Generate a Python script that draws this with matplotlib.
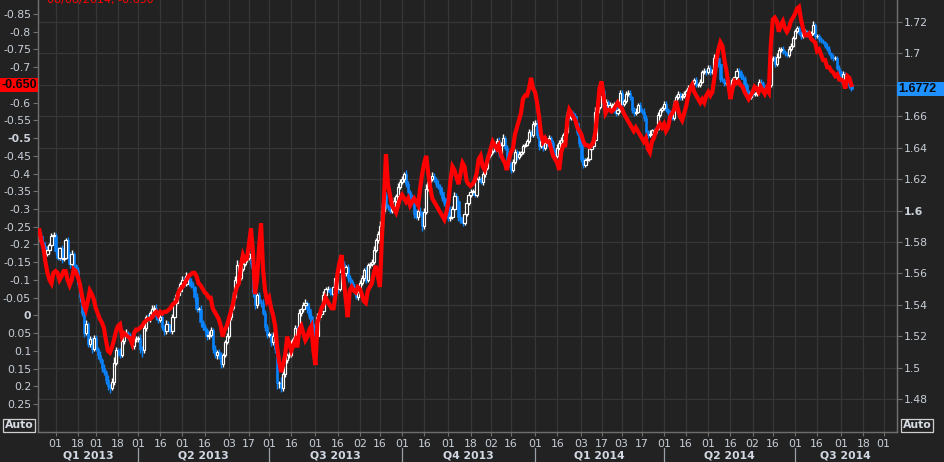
import numpy as np
import pandas as pd
import matplotlib
matplotlib.use("Agg")
import matplotlib.pyplot as plt
from matplotlib.patches import Rectangle
from matplotlib.transforms import blended_transform_factory

# GBP/USD daily closes, one line per month (Jan 22 2013 .. Aug 8 2014)
first_open = 1.582
gbp_close = [
    1.584, 1.580, 1.577, 1.572, 1.575, 1.578, 1.584, 1.584,
    1.574, 1.570, 1.576, 1.569, 1.570, 1.581, 1.572, 1.566, 1.572, 1.565, 1.562, 1.553, 1.545, 1.535, 1.522, 1.528, 1.515, 1.518, 1.512, 1.519,
    1.512, 1.508, 1.505, 1.500, 1.497, 1.492, 1.488, 1.487, 1.491, 1.503, 1.511, 1.510, 1.508, 1.517, 1.521, 1.522, 1.520, 1.519, 1.514, 1.518, 1.518,
    1.519, 1.512, 1.511, 1.525, 1.532, 1.531, 1.535, 1.537, 1.538, 1.533, 1.530, 1.532, 1.526, 1.523, 1.528, 1.525, 1.523, 1.532, 1.541, 1.546, 1.549, 1.553,
    1.556, 1.553, 1.558, 1.555, 1.552, 1.551, 1.545, 1.537, 1.537, 1.529, 1.526, 1.524, 1.520, 1.521, 1.524, 1.512, 1.508, 1.510, 1.507, 1.502, 1.508, 1.516, 1.520,
    1.532, 1.538, 1.545, 1.556, 1.565, 1.557, 1.563, 1.566, 1.569, 1.570, 1.572, 1.566, 1.548, 1.540, 1.546, 1.542, 1.541, 1.535, 1.526, 1.521,
    1.521, 1.516, 1.520, 1.512, 1.490, 1.490, 1.487, 1.496, 1.505, 1.508, 1.508, 1.515, 1.518, 1.525, 1.522, 1.535, 1.537, 1.540, 1.541, 1.537, 1.533, 1.528, 1.522,
    1.520, 1.532, 1.534, 1.536, 1.546, 1.550, 1.550, 1.548, 1.547, 1.551, 1.557, 1.550, 1.561, 1.566, 1.560, 1.564, 1.557, 1.555, 1.552, 1.549, 1.545, 1.548,
    1.554, 1.557, 1.562, 1.556, 1.565, 1.566, 1.567, 1.575, 1.581, 1.585, 1.590, 1.600, 1.610, 1.603, 1.602, 1.600, 1.601, 1.606, 1.609, 1.615, 1.618,
    1.620, 1.623, 1.617, 1.612, 1.608, 1.606, 1.598, 1.596, 1.600, 1.598, 1.590, 1.599, 1.614, 1.618, 1.620, 1.622, 1.620, 1.617, 1.615, 1.612, 1.608, 1.605, 1.603,
    1.595, 1.596, 1.601, 1.609, 1.606, 1.596, 1.594, 1.592, 1.598, 1.605, 1.610, 1.612, 1.612, 1.610, 1.620, 1.620, 1.618, 1.623, 1.627, 1.634, 1.636,
    1.638, 1.642, 1.639, 1.644, 1.636, 1.642, 1.646, 1.640, 1.632, 1.629, 1.626, 1.631, 1.637, 1.634, 1.636, 1.637, 1.641, 1.642, 1.644, 1.650, 1.648, 1.655,
    1.656, 1.648, 1.641, 1.644, 1.640, 1.643, 1.642, 1.646, 1.643, 1.638, 1.635, 1.640, 1.643, 1.645, 1.648, 1.650, 1.661, 1.659, 1.662, 1.660, 1.656, 1.650, 1.643,
    1.633, 1.629, 1.632, 1.633, 1.639, 1.641, 1.645, 1.663, 1.666, 1.673, 1.676, 1.667, 1.669, 1.665, 1.667, 1.667, 1.668, 1.662, 1.664, 1.675,
    1.668, 1.670, 1.674, 1.675, 1.672, 1.664, 1.662, 1.663, 1.667, 1.664, 1.663, 1.659, 1.650, 1.648, 1.649, 1.651, 1.650, 1.652, 1.661, 1.664, 1.665,
    1.668, 1.664, 1.662, 1.660, 1.659, 1.668, 1.672, 1.674, 1.672, 1.673, 1.674, 1.676, 1.678, 1.679, 1.681, 1.683, 1.680, 1.680, 1.682, 1.688, 1.689, 1.688,
    1.691, 1.688, 1.688, 1.697, 1.697, 1.693, 1.684, 1.683, 1.681, 1.681, 1.677, 1.679, 1.683, 1.685, 1.689, 1.688, 1.685, 1.684, 1.680, 1.675, 1.672, 1.675,
    1.674, 1.674, 1.677, 1.682, 1.681, 1.678, 1.676, 1.678, 1.680, 1.697, 1.697, 1.693, 1.698, 1.702, 1.703, 1.701, 1.700, 1.699, 1.703, 1.705, 1.710,
    1.714, 1.716, 1.713, 1.711, 1.714, 1.714, 1.712, 1.712, 1.713, 1.718, 1.711, 1.711, 1.709, 1.708, 1.707, 1.705, 1.703, 1.700, 1.698, 1.697, 1.697, 1.691, 1.688,
    1.683, 1.687, 1.685, 1.684, 1.680, 1.6772,
]

# wick lengths above / below the body, in pips
wick_up = [
    12, 20, 8, 15, 22, 10, 18, 25,
    15, 30, 10, 18, 25, 12, 20, 14, 28, 16, 9, 22, 18, 30, 12, 26, 10, 24, 15, 20,
    18, 10, 25, 14, 20, 12, 30, 16, 22, 35, 18, 12, 26, 20, 15, 28, 10, 18, 24, 14, 20,
    12, 25, 18, 30, 15, 20, 10, 28, 16, 22, 14, 18, 26, 12, 20, 15, 24, 18, 30, 12, 22, 16,
    20, 14, 28, 12, 18, 25, 10, 22, 16, 30, 14, 20, 12, 26, 18, 10, 24, 15, 20, 28, 12, 18, 22,
    25, 16, 30, 20, 35, 14, 22, 18, 28, 12, 30, 20, 45, 26, 18, 22, 14, 28, 16, 20,
    18, 12, 25, 20, 30, 16, 40, 55, 22, 14, 18, 26, 12, 20, 16, 24, 10, 18, 28, 14, 20, 16, 22,
    14, 25, 12, 18, 30, 16, 20, 12, 24, 18, 22, 14, 20, 28, 16, 12, 22, 18, 14, 20, 26, 12,
    16, 22, 12, 28, 18, 14, 20, 25, 16, 22, 30, 40, 35, 18, 14, 20, 12, 24, 16, 22, 18,
    20, 14, 25, 18, 12, 22, 16, 28, 14, 20, 18, 26, 30, 16, 12, 22, 18, 14, 24, 16, 20, 12, 18,
    22, 14, 18, 26, 20, 12, 16, 24, 18, 22, 14, 20, 16, 28, 12, 18, 14, 22, 16, 20, 12,
    18, 22, 14, 20, 26, 16, 24, 12, 18, 14, 20, 16, 22, 12, 18, 10, 14, 8, 12, 16, 14, 20,
    16, 24, 12, 18, 14, 22, 16, 20, 12, 18, 14, 24, 16, 20, 12, 18, 26, 14, 20, 16, 22, 12, 18,
    14, 20, 16, 12, 22, 18, 14, 26, 16, 20, 24, 12, 18, 14, 20, 16, 12, 22, 14, 18,
    16, 12, 20, 14, 18, 12, 16, 22, 14, 18, 12, 20, 16, 14, 22, 12, 18, 14, 20, 12, 16,
    14, 18, 12, 20, 16, 22, 14, 18, 12, 16, 20, 14, 18, 12, 16, 14, 20, 12, 18, 14, 16, 12,
    16, 14, 20, 24, 16, 18, 12, 14, 16, 12, 18, 14, 16, 12, 18, 14, 12, 16, 14, 12, 18, 14,
    12, 16, 14, 20, 18, 12, 16, 14, 18, 22, 16, 14, 20, 18, 12, 16, 14, 12, 18, 16, 14,
    18, 16, 14, 12, 16, 14, 12, 18, 14, 25, 12, 14, 16, 12, 14, 12, 16, 14, 12, 14, 12, 16, 14,
    12, 16, 14, 12, 16, 14,
]
wick_dn = [
    15, 10, 22, 18, 12, 20, 14, 10,
    22, 12, 18, 25, 14, 10, 20, 28, 12, 18, 24, 16, 30, 20, 26, 14, 22, 18, 28, 12,
    16, 24, 20, 28, 18, 25, 22, 30, 14, 18, 12, 24, 16, 14, 20, 12, 26, 18, 14, 22, 16,
    20, 30, 40, 14, 18, 12, 22, 16, 14, 26, 18, 12, 20, 24, 16, 18, 12, 14, 10, 18, 12, 16,
    14, 20, 12, 18, 16, 22, 26, 18, 14, 24, 20, 16, 22, 18, 14, 26, 20, 28, 16, 24, 18, 14, 12,
    14, 18, 12, 16, 20, 18, 14, 12, 16, 20, 14, 24, 30, 28, 20, 16, 22, 18, 24, 20,
    16, 22, 18, 26, 35, 28, 25, 20, 18, 22, 16, 14, 20, 12, 18, 14, 20, 16, 12, 22, 18, 24, 20,
    28, 14, 18, 12, 16, 22, 14, 20, 16, 12, 18, 24, 14, 12, 20, 16, 22, 18, 20, 24, 16, 18,
    14, 16, 20, 22, 12, 18, 14, 12, 16, 14, 12, 18, 20, 22, 16, 14, 18, 12, 14, 16, 12,
    14, 18, 20, 16, 22, 18, 26, 14, 20, 16, 28, 18, 12, 14, 16, 12, 18, 20, 16, 22, 18, 20, 24,
    20, 16, 12, 14, 22, 26, 18, 20, 14, 12, 16, 14, 18, 12, 16, 14, 12, 16, 14, 12, 14,
    12, 14, 18, 12, 20, 14, 12, 18, 22, 16, 20, 14, 12, 16, 14, 12, 10, 8, 12, 10, 14, 12,
    10, 18, 22, 14, 20, 16, 14, 12, 18, 20, 22, 16, 14, 12, 14, 12, 10, 16, 14, 18, 20, 22, 24,
    22, 20, 14, 16, 12, 14, 12, 10, 14, 12, 16, 20, 14, 18, 14, 16, 20, 18, 14, 12,
    14, 12, 16, 12, 18, 20, 16, 14, 12, 16, 14, 20, 22, 16, 14, 12, 16, 12, 10, 14, 12,
    12, 16, 18, 14, 16, 12, 10, 12, 16, 14, 12, 10, 14, 12, 10, 12, 16, 14, 12, 10, 14, 16,
    12, 16, 14, 12, 14, 18, 20, 14, 16, 12, 18, 14, 12, 10, 12, 14, 16, 12, 16, 18, 14, 12,
    14, 12, 10, 12, 14, 16, 14, 12, 10, 12, 16, 18, 12, 10, 12, 14, 16, 12, 10, 12, 10,
    10, 12, 14, 16, 12, 10, 14, 12, 10, 12, 18, 14, 16, 14, 12, 14, 16, 12, 14, 16, 14, 18, 16,
    16, 12, 14, 16, 18, 14,
]

# red overlay series (left, inverted axis)
spread = [
    -0.24, -0.21, -0.19, -0.15, -0.12, -0.10, -0.09, -0.12,
    -0.125, -0.12, -0.10, -0.11, -0.125, -0.125, -0.10, -0.085, -0.10, -0.13, -0.125, -0.11, -0.09, -0.06, -0.03, -0.015, -0.04, -0.07, -0.06, -0.045,
    -0.02, -0.005, 0.01, 0.02, 0.035, 0.07, 0.10, 0.105, 0.09, 0.07, 0.045, 0.03, 0.025, 0.06, 0.05, 0.055, 0.06, 0.065, 0.08, 0.05, 0.04,
    0.04, 0.035, 0.03, 0.02, 0.015, 0.01, 0.01, 0.005, -0.005, -0.01, 0.0, -0.01, -0.005, -0.01, -0.01, -0.015, -0.02, -0.03, -0.035, -0.04, -0.065, -0.075,
    -0.08, -0.09, -0.10, -0.11, -0.115, -0.12, -0.12, -0.11, -0.09, -0.085, -0.075, -0.065, -0.06, -0.05, -0.05, -0.02, -0.01, 0.0, 0.01, 0.03, 0.06, 0.04, 0.03,
    0.01, -0.01, -0.03, -0.06, -0.08, -0.09, -0.14, -0.17, -0.155, -0.16, -0.20, -0.245, -0.18, -0.06, -0.10, -0.19, -0.26, -0.13, -0.07, -0.04,
    -0.05, -0.02, 0.0, 0.03, 0.09, 0.13, 0.16, 0.14, 0.11, 0.06, 0.08, 0.10, 0.085, 0.07, 0.09, 0.04, 0.03, 0.05, 0.07, 0.06, 0.04, 0.03, 0.10,
    0.14, 0.02, 0.0, -0.02, -0.03, -0.05, -0.04, -0.03, -0.02, -0.02, -0.06, -0.12, -0.15, -0.17, -0.10, -0.05, 0.005, -0.07, -0.08, -0.07, -0.065, -0.08,
    -0.075, -0.06, -0.04, -0.035, -0.07, -0.08, -0.09, -0.12, -0.14, -0.11, -0.08, -0.22, -0.33, -0.455, -0.37, -0.34, -0.31, -0.30, -0.29, -0.31, -0.33,
    -0.34, -0.33, -0.32, -0.33, -0.31, -0.32, -0.33, -0.32, -0.31, -0.36, -0.40, -0.43, -0.45, -0.40, -0.36, -0.33, -0.32, -0.31, -0.30, -0.29, -0.28, -0.27, -0.29,
    -0.32, -0.38, -0.42, -0.41, -0.39, -0.37, -0.40, -0.43, -0.42, -0.38, -0.37, -0.365, -0.37, -0.38, -0.40, -0.44, -0.45, -0.42, -0.41, -0.43, -0.45,
    -0.47, -0.49, -0.48, -0.47, -0.48, -0.455, -0.44, -0.43, -0.41, -0.44, -0.46, -0.47, -0.51, -0.53, -0.55, -0.57, -0.61, -0.62, -0.62, -0.64, -0.67, -0.64,
    -0.63, -0.60, -0.56, -0.51, -0.49, -0.50, -0.49, -0.49, -0.47, -0.45, -0.44, -0.43, -0.41, -0.46, -0.48, -0.48, -0.55, -0.58, -0.57, -0.56, -0.55, -0.53, -0.52,
    -0.51, -0.49, -0.48, -0.48, -0.475, -0.48, -0.49, -0.52, -0.58, -0.64, -0.66, -0.62, -0.57, -0.58, -0.58, -0.575, -0.58, -0.59, -0.60, -0.59,
    -0.585, -0.57, -0.56, -0.55, -0.54, -0.53, -0.52, -0.53, -0.52, -0.51, -0.50, -0.49, -0.50, -0.47, -0.46, -0.49, -0.50, -0.52, -0.53, -0.54, -0.53,
    -0.54, -0.52, -0.53, -0.56, -0.57, -0.58, -0.605, -0.58, -0.56, -0.55, -0.57, -0.59, -0.62, -0.64, -0.65, -0.63, -0.62, -0.61, -0.60, -0.61, -0.60, -0.62,
    -0.63, -0.62, -0.63, -0.67, -0.72, -0.75, -0.77, -0.76, -0.72, -0.69, -0.65, -0.61, -0.64, -0.66, -0.655, -0.66, -0.65, -0.645, -0.63, -0.62, -0.61, -0.62,
    -0.63, -0.645, -0.64, -0.63, -0.645, -0.635, -0.625, -0.64, -0.63, -0.76, -0.835, -0.84, -0.83, -0.80, -0.82, -0.83, -0.81, -0.80, -0.81, -0.83, -0.84,
    -0.85, -0.865, -0.87, -0.835, -0.81, -0.79, -0.79, -0.795, -0.78, -0.775, -0.77, -0.745, -0.75, -0.735, -0.72, -0.72, -0.70, -0.70, -0.69, -0.685, -0.675, -0.68, -0.665,
    -0.665, -0.66, -0.64, -0.675, -0.67, -0.65,
]

quarters = ["Q1 2013", "Q2 2013", "Q3 2013", "Q4 2013", "Q1 2014", "Q2 2014", "Q3 2014"]
quarter_starts = ["2013-04-01", "2013-07-01", "2013-10-01", "2014-01-01", "2014-04-01", "2014-07-01"]
title_text = "08/08/2014, -0.650"

BG = "#222222"
GRID = "#373737"
SPINE = "#6e6e6e"
TXT = "#c9d0d9"
BLUE = "#0a84ff"
RED = "#ff0000"
W, H = 945, 462

dates = pd.bdate_range("2013-01-22", "2014-08-08")
assert len(dates) == len(gbp_close) == len(spread) == len(wick_up) == len(wick_dn)
x = np.arange(len(dates))
close = np.array(gbp_close)
opn = np.r_[first_open, close[:-1]]
hi = np.maximum(opn, close) + np.array(wick_up) * 1e-4
lo = np.minimum(opn, close) - np.array(wick_dn) * 1e-4
up = close >= opn

# weekday axis positions for calendar dates
cal = pd.bdate_range("2013-01-01", "2014-12-31")
i0 = cal.searchsorted(dates[0])
def pos(d):
    return cal.searchsorted(pd.Timestamp(d)) - i0

xlim = (-0.7, 425.5)

fig = plt.figure(figsize=(W / 100, H / 100), dpi=100, facecolor=BG)
ax = fig.add_axes([38 / W, 30 / H, (896.7 - 38) / W, 432 / H], facecolor=BG)
axr = ax.twinx()

# candles
body = np.abs(close - opn)
body = np.where(body < 2e-4, 2e-4, body)
bot = np.minimum(opn, close)
ax.vlines(x[up], lo[up], hi[up], color="white", lw=1.0, zorder=2)
ax.vlines(x[~up], lo[~up], hi[~up], color=BLUE, lw=1.0, zorder=2)
ax.bar(x[~up], body[~up], bottom=bot[~up], width=1.15, color=BLUE, edgecolor=BLUE, lw=0.4, zorder=3)
ax.bar(x[up], body[up], bottom=bot[up], width=1.15, facecolor=BG, edgecolor="white", lw=0.85, zorder=3)

# red overlay on top
axr.plot(x, spread, color=RED, lw=3.0, solid_joinstyle="miter", zorder=4)

ax.set_xlim(*xlim)
ax.set_ylim(1.459, 1.734)
axr.set_ylim(0.329, -0.8896)

def fmt(v):
    s = f"{v:.2f}".rstrip("0").rstrip(".")
    return "0" if s in ("-0", "") else s

rticks = np.round(np.arange(1.48, 1.7201, 0.02), 2)
ax.set_yticks(rticks, ["" if abs(v - 1.68) < 1e-6 else fmt(v) for v in rticks])
lticks = np.round(np.arange(-0.85, 0.2501, 0.05), 2)
axr.set_yticks(lticks, ["" if abs(v + 0.65) < 1e-6 else fmt(v) for v in lticks])

# date ticks on the 1st / 16th (first weekday on or after)
tick_dates = []
for m in pd.date_range("2013-01-01", "2014-09-01", freq="MS"):
    for d in (1, 16):
        td = m + pd.Timedelta(days=d - 1)
        p = pos(td)
        if xlim[0] < p < xlim[1]:
            tick_dates.append((p, cal[cal.searchsorted(td)].strftime("%d")))
ax.set_xticks([p for p, _ in tick_dates], [s for _, s in tick_dates])

ax.yaxis.tick_right()
axr.yaxis.tick_left()
for a in (ax, axr):
    a.tick_params(axis="y", direction="out", length=3.8, width=0.8, color=SPINE,
                  labelcolor=TXT, labelsize=7.8, pad=1.2)
    for s in a.spines.values():
        s.set_color(SPINE)
        s.set_linewidth(0.9)
    a.spines["top"].set_visible(False)
ax.tick_params(axis="x", direction="out", length=3, width=0.8, color=SPINE,
               labelcolor=TXT, labelsize=7.8, pad=2)

for t in axr.get_yticklabels():
    if t.get_text() in ("-0.5", "0"):
        t.set_fontweight("bold")
for t in ax.get_yticklabels():
    if t.get_text() == "1.6":
        t.set_fontweight("bold")

ax.grid(True, color=GRID, lw=0.9)
ax.set_axisbelow(True)

# quarter labels and separators
tr = blended_transform_factory(ax.transData, fig.transFigure)
bounds = [xlim[0]] + [pos(q) for q in quarter_starts] + [xlim[1]]
for i, q in enumerate(quarters):
    ax.text((bounds[i] + bounds[i + 1]) / 2, 1 - 456 / H, q, transform=tr, ha="center",
            va="center", fontsize=7.8, fontweight="bold", color="#d2d9e4", clip_on=False)
for b in bounds[1:-1]:
    ax.plot([b, b], [0, 1 - 448 / H], transform=tr, color="#9aa0a8", lw=0.9, clip_on=False)

# last-value tags
fig.canvas.draw()
def ypix(a, v):
    return a.transData.transform((0, v))[1]

tag_font = dict(family=["Liberation Sans", "DejaVu Sans"], fontsize=9, fontweight="bold",
                color="#0a0a0a", va="center")

yb = ypix(ax, close[-1])
fig.patches.append(Rectangle((896.7 / W, (yb - 7) / H), (W - 896.7) / W, 14 / H,
                             transform=fig.transFigure, facecolor="#1e90ff", edgecolor="none"))
fig.text(898.5 / W, yb / H, f"{close[-1]:.4f}", ha="left", **tag_font)

yr = ypix(axr, spread[-1])
fig.patches.append(Rectangle((0, (yr - 7) / H), 38 / W, 14 / H,
                             transform=fig.transFigure, facecolor=RED, edgecolor="none"))
fig.text(37.5 / W, yr / H, f"{spread[-1]:.3f}", ha="right", **tag_font)

for xc in (19, 917.5):
    fig.text(xc / W, 1 - 425.5 / H, "Auto", ha="center", va="center", fontsize=7.8,
             fontweight="bold", color="#d8dde5",
             bbox=dict(boxstyle="square,pad=0.15", fc="none", ec="#d0d0d0", lw=0.9))

# header line of the chart, mostly above the visible area as in the source
fig.text(47 / W, 1 - 2.5 / H, title_text, color=RED, fontsize=8, va="baseline")

fig.savefig("out.png", dpi=100, facecolor=BG)
